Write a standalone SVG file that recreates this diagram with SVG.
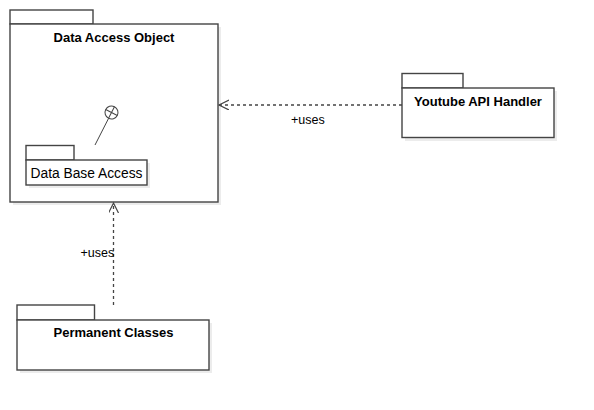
<svg xmlns="http://www.w3.org/2000/svg" width="594" height="410" viewBox="0 0 594 410">
<defs>
<style>
.shadow{fill:#ececec;stroke:none}
.pkg{fill:#ffffff;stroke:#444444;stroke-width:1.4}
.title{font-family:"Liberation Sans",Arial,sans-serif;font-size:13px;font-weight:bold;fill:#000;text-anchor:middle}
.plain{font-family:"Liberation Sans",Arial,sans-serif;font-size:13.8px;fill:#000;text-anchor:middle}
.lbl{font-family:"Liberation Sans",Arial,sans-serif;font-size:12.5px;fill:#000}
.dep{fill:none;stroke:#444444;stroke-width:1.3;stroke-dasharray:3,3}
.sym{fill:none;stroke:#444444;stroke-width:1}
</style>
<marker id="open" markerWidth="12" markerHeight="12" refX="10" refY="5" orient="auto" markerUnits="userSpaceOnUse">
<path d="M0,0 L10,5 L0,10" fill="none" stroke="#444444" stroke-width="1.2"/>
</marker>
</defs>
<rect width="594" height="410" fill="#ffffff"/>

<g id="data-access-object">
<rect class="shadow" x="13" y="27" width="208" height="178"/>
<rect class="pkg" x="10" y="10" width="83" height="14"/>
<rect class="pkg" x="10" y="24" width="208" height="178"/>
<text class="title" x="114" y="42">Data Access Object</text>
<g transform="rotate(27 111.5 112.5)">
<circle class="sym" cx="111.5" cy="112.5" r="6.5"/>
<line class="sym" x1="111.5" y1="106" x2="111.5" y2="119"/>
<line class="sym" x1="105" y1="112.5" x2="118" y2="112.5"/>
</g>
<line class="sym" x1="108.6" y1="118.3" x2="95" y2="145"/>
</g>

<g id="data-base-access">
<rect class="shadow" x="29" y="163" width="121" height="25"/>
<rect class="pkg" x="26" y="145.5" width="48" height="14.5"/>
<rect class="pkg" x="26" y="160" width="121" height="25"/>
<text class="plain" x="86.5" y="178.3">Data Base Access</text>
</g>

<g id="youtube-api-handler">
<rect class="shadow" x="405" y="91" width="152" height="50"/>
<rect class="pkg" x="402" y="73.5" width="61" height="14.5"/>
<rect class="pkg" x="402" y="88" width="152" height="49.5"/>
<text class="title" x="478" y="106">Youtube API Handler</text>
</g>

<g id="permanent-classes">
<rect class="shadow" x="20" y="323" width="192" height="50"/>
<rect class="pkg" x="17" y="305" width="77.5" height="15"/>
<rect class="pkg" x="17" y="320" width="192" height="50"/>
<text class="title" x="113.5" y="337">Permanent Classes</text>
</g>

<g id="connectors">
<line class="dep" x1="402" y1="105" x2="219" y2="105" marker-end="url(#open)"/>
<text class="lbl" x="291" y="124">+uses</text>
<line class="dep" x1="113.5" y1="305" x2="113.5" y2="203" marker-end="url(#open)"/>
<text class="lbl" x="80.5" y="257">+uses</text>
</g>
</svg>
